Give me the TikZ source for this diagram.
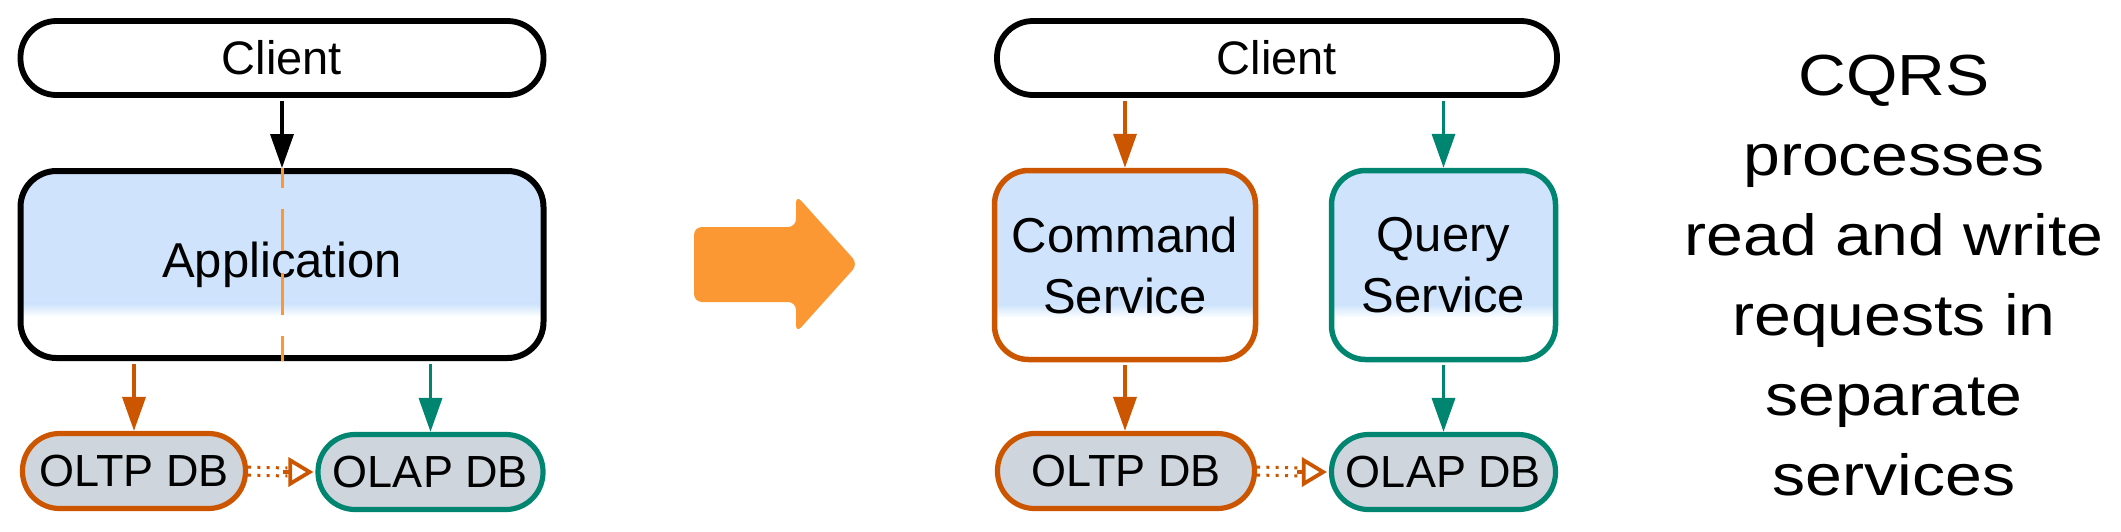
\documentclass[tikz,border=0pt]{standalone}
\usepackage{fontspec}
\setmainfont{Liberation Sans}
\newfontfamily\captionfont[FakeStretch=1.14]{Liberation Sans}
\usetikzlibrary{arrows.meta, calc}

\definecolor{cmdorange}{RGB}{204,85,0}
\definecolor{qryteal}{RGB}{0,133,113}
\definecolor{svcblue}{RGB}{207,228,252}
\definecolor{dbgray}{RGB}{206,213,221}
\definecolor{bigorange}{RGB}{251,152,51}
\definecolor{cutorange}{RGB}{255,150,50}

\tikzset{
  clientbox/.style={draw, line width=5.8pt, rounded corners=36pt, fill=white,
    inner sep=0pt, minimum height=74pt, font=\fontsize{47}{56}\selectfont},
  svcbox/.style={draw, line width=5.5pt, rounded corners=34pt, fill=white,
    inner sep=0pt, align=center, font=\fontsize{49}{61}\selectfont,
    path picture={
      \fill[svcblue, sharp corners]
        ($(path picture bounding box.south west)!0.29!(path picture bounding box.north west)$)
        rectangle (path picture bounding box.north east);
      \shade[top color=svcblue, bottom color=white, sharp corners]
        ($(path picture bounding box.south west)!0.22!(path picture bounding box.north west)$)
        rectangle ($(path picture bounding box.south east)!0.29!(path picture bounding box.north east)$);
    }},
  dbbox/.style={draw, line width=5.2pt, rounded corners=37pt, fill=dbgray,
    inner sep=0pt, minimum height=75pt, font=\fontsize{45}{54}\selectfont},
  flow/.style={line width=3.6pt, -{Triangle[length=34pt, width=23pt]}},
  syncdots/.style={draw=cmdorange, line width=3pt, dash pattern=on 3pt off 6.3pt},
  synctip/.style={draw=cmdorange, line width=3.8pt, -{Triangle[open, length=25pt, width=29pt]}},
}

\begin{document}
\begin{tikzpicture}[x=1pt, y=-1pt]
\useasboundingbox (0,0) rectangle (2121,531);

%before: one application
\node[clientbox, minimum width=523pt] (client1) at (282,58) {Client};
\node[svcbox, line width=6pt, rounded corners=36pt, minimum width=523pt, minimum height=187pt] (app1) at (282,264.5) {Application};
\node[dbbox, draw=cmdorange, minimum width=223pt] (oltp1) at (134,471) {OLTP DB};
\node[dbbox, draw=qryteal, minimum width=225pt] (olap1) at (430.5,472) {OLAP DB};

\draw[flow] ($(client1.south)+(0,2.9)$) -- (app1);
\draw[cutorange, line width=3pt, dash pattern=on 42pt off 21.5pt, dash phase=22.5pt] (app1.north) -- (app1.south);
\draw[flow, cmdorange] ($(app1.south -| oltp1.north)+(0,3)$) -- (oltp1.north);
\draw[flow, qryteal] ($(app1.south -| olap1.north)+(0,3)$) -- (olap1.north);

%the sync between the databases
\draw[syncdots] ([yshift=4pt]oltp1.east) -- ([xshift=-28pt, yshift=4pt]olap1.west);
\draw[syncdots] ([yshift=-4pt]oltp1.east) -- ([xshift=-28pt, yshift=-4pt]olap1.west);
\draw[synctip] ([xshift=-32pt]olap1.west) -- ([xshift=-2pt]olap1.west);

%the big arrow
\fill[bigorange, rounded corners=8pt] (694,227) -- (796,227) -- (796,195) -- (858,264)
  -- (796,333) -- (796,302) -- (694,302) -- cycle;

%after: command and query services
\node[clientbox, minimum width=560pt] (client2) at (1277,58) {Client};
\node[svcbox, draw=cmdorange, minimum width=261pt, minimum height=189pt] (cmd) at (1125,265) {Command\\Service};
\node[svcbox, draw=qryteal, minimum width=224pt, minimum height=189pt] (qry) at (1443.5,265) {Query\\Service};
\node[dbbox, draw=cmdorange, minimum width=257pt] (oltp2) at (1126,471) {OLTP DB};
\node[dbbox, draw=qryteal, minimum width=224pt] (olap2) at (1443.5,472) {OLAP DB};

\draw[flow, cmdorange] ($(client2.south -| cmd.north)+(0,2.9)$) -- (cmd.north);
\draw[flow, qryteal] ($(client2.south -| qry.north)+(0,2.9)$) -- (qry.north);
\draw[flow, cmdorange] ($(cmd.south)+(0,2.75)$) -- (cmd |- oltp2.north);
\draw[flow, qryteal] ($(qry.south)+(0,2.75)$) -- (olap2.north);

\draw[syncdots] ([yshift=4pt]oltp2.east) -- ([xshift=-28pt, yshift=4pt]olap2.west);
\draw[syncdots] ([yshift=-4pt]oltp2.east) -- ([xshift=-28pt, yshift=-4pt]olap2.west);
\draw[synctip] ([xshift=-32pt]olap2.west) -- ([xshift=-2pt]olap2.west);

%the caption
\node[align=center, font=\captionfont\fontsize{58}{80}\selectfont] (caption) at (1894,276)
  {CQRS\\processes\\read and write\\requests in\\separate\\services};
\end{tikzpicture}
\end{document}
